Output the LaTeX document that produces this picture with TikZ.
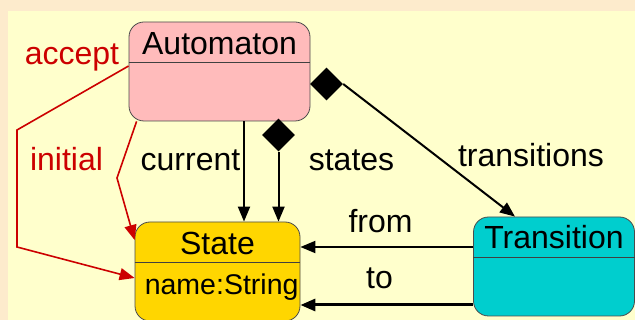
\documentclass[tikz,border=0pt]{standalone}
\usepackage{fontspec}
\setmainfont{Liberation Sans}
\usetikzlibrary{arrows.meta,shapes.geometric}

\definecolor{outerbg}{RGB}{253,235,204}
\definecolor{innerbg}{RGB}{255,255,204}
\definecolor{automatonfill}{RGB}{255,187,187}
\definecolor{statefill}{RGB}{255,214,0}
\definecolor{transitionfill}{RGB}{0,206,206}
\definecolor{assocred}{RGB}{204,0,0}

\begin{document}
\begin{tikzpicture}[x=1pt, y=-1pt,
  classbox/.style={draw=black!70, line width=0.8pt, rounded corners=15pt, inner sep=0pt},
  divider/.style={draw=black!75, line width=0.8pt},
  lbl/.style={anchor=base, inner sep=0pt, font=\fontsize{32}{38}\selectfont},
  assoc/.style={black, line width=2pt, -{Triangle[length=15pt,width=12pt]}},
  redassoc/.style={assocred, line width=1.6pt, -{Triangle[length=15pt,width=12pt]}},
  compo/.style={diamond, fill=black, minimum width=33pt, minimum height=33pt, inner sep=0pt}]

\useasboundingbox (0,0) rectangle (635,320);

% Background
\fill[outerbg] (0,0) rectangle (635,320);
\fill[innerbg] (8,11) rectangle (635,320);



% Automaton class
\node[classbox, fill=automatonfill, minimum width=181pt, minimum height=99pt] (automaton) at (219.5,71.5) {};
\draw[divider] ([yshift=-41pt]automaton.north west) -- ([yshift=-41pt]automaton.north east);
\node[lbl] (automatonname) at ([yshift=-33pt]automaton.north) {Automaton};

% State class
\node[classbox, fill=statefill, minimum width=165pt, minimum height=99pt] (state) at (217.5,271.5) {};
\draw[divider] ([yshift=-41pt]state.north west) -- ([yshift=-41pt]state.north east);
\node[lbl] (statename) at ([yshift=-33pt]state.north) {State};
\node[lbl, anchor=base west, font=\fontsize{28.5}{34}\selectfont] (stateattr) at ([xshift=10pt, yshift=-73pt]state.north west) {name:String};

% Transition class
\node[classbox, fill=transitionfill, minimum width=161pt, minimum height=99pt] (transition) at (554,266.5) {};
\draw[divider] ([yshift=-41pt]transition.north west) -- ([yshift=-41pt]transition.north east);
\node[lbl] (transitionname) at ([yshift=-32pt]transition.north) {Transition};



% accept and initial
\coordinate (acceptbendA) at (17,130);
\coordinate (acceptbendB) at (17,247);
\draw[redassoc] ([yshift=5.5pt]automaton.west) -- (acceptbendA) -- (acceptbendB) -- ([yshift=-6.5pt]state.west);
\node[lbl, text=assocred] (acceptlbl) at (72,65) {accept};

\coordinate (initialbend) at (117,178);
\draw[redassoc] ([xshift=8pt]automaton.south west) -- (initialbend) -- ([yshift=31.5pt]state.west);
\node[lbl, text=assocred] (initiallbl) at (66.5,171) {initial};

% current
\draw[assoc] ([xshift=24.5pt]automaton.south) coordinate (currenttop) -- (currenttop |- state.north);
\node[lbl] (currentlbl) at (190.5,171) {current};

% states
\node[compo] (statesdia) at (278.5,135) {};
\draw[assoc] (statesdia.south) -- (statesdia.south |- state.north);
\node[lbl] (stateslbl) at (351.5,171) {states};

% transitions
\node[compo] (transdia) at (326.5,84) {};
\draw[assoc] (transdia.east) -- ([xshift=-39pt]transition.north);
\node[lbl] (transitionslbl) at (531,167) {transitions};

% from and to
\draw[assoc] ([yshift=19.5pt]transition.west) coordinate (fromstart) -- (fromstart -| state.east);
\node[lbl] (fromlbl) at (380.5,233) {from};

\draw[assoc, line width=3pt] ([yshift=-38.5pt]transition.west) coordinate (tostart) -- (tostart -| state.east);
\node[lbl] (tolbl) at (379.5,289) {to};



\end{tikzpicture}
\end{document}
